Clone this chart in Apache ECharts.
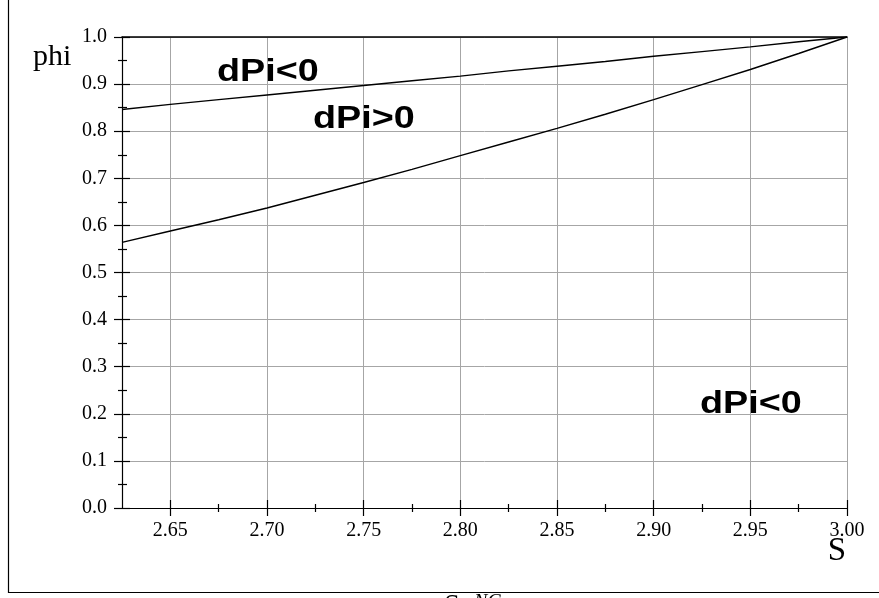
<!DOCTYPE html>
<html>
<head>
<meta charset="utf-8">
<script src="https://cdn.jsdelivr.net/npm/echarts@6/dist/echarts.min.js"></script>
<style>html,body{margin:0;padding:0;background:#fff}#c{width:879px;height:598px}</style>
</head>
<body>
<div id="c"></div>
<script>
// S values (x) and the two boundary curves phi(S)
const sValues = [2.625, 2.65, 2.675, 2.70, 2.725, 2.75, 2.775, 2.80, 2.825, 2.85, 2.875, 2.90, 2.925, 2.95, 2.975, 3.00];
const phiUpper = [0.846, 0.857, 0.867, 0.877, 0.887, 0.897, 0.907, 0.917, 0.928, 0.938, 0.948, 0.959, 0.969, 0.979, 0.990, 1.000];
const phiLower = [0.564, 0.588, 0.612, 0.637, 0.664, 0.691, 0.719, 0.748, 0.777, 0.806, 0.836, 0.867, 0.899, 0.931, 0.965, 1.000];
// axis ticks
const xMajorTicks = [2.65, 2.70, 2.75, 2.80, 2.85, 2.90, 2.95, 3.00];
const xMinorTicks = [2.675, 2.725, 2.775, 2.825, 2.875, 2.925, 2.975];
const xMin = 2.625, xMax = 3.0;
const yMin = 0, yMax = 1.0, yStep = 0.1;
// annotations
const regionLabels = [
  {text: 'dPi<0', x: 217, y: 72},
  {text: 'dPi>0', x: 313, y: 119},
  {text: 'dPi<0', x: 700, y: 404}
];

const chart = echarts.init(document.getElementById('c'), null, {renderer: 'canvas'});
const serif = '"Liberation Serif", "Times New Roman", serif';
const black = '#000';
const gridGrey = '#a6a6a6';

function xAxisBase(extra) {
  return Object.assign({
    type: 'value', min: xMin, max: xMax, gridIndex: 0, position: 'bottom',
    axisLine: {show: false}, axisLabel: {show: false}, splitLine: {show: false},
    axisTick: {show: false}
  }, extra);
}

const option = {
  animation: false,
  backgroundColor: '#fff',
  grid: {left: 122, right: 32, top: 37, bottom: 90, containLabel: false},
  xAxis: [
    xAxisBase({
      axisLine: {show: true, onZero: false, lineStyle: {color: black, width: 1.2}},
      axisTick: {show: true, customValues: xMajorTicks, length: 8, inside: false, lineStyle: {color: black, width: 1.2}},
      axisLabel: {show: true, customValues: xMajorTicks, formatter: v => Number(v).toFixed(2),
        margin: 13, color: black, fontFamily: serif, fontSize: 20},
      splitLine: {show: true, lineStyle: {color: gridGrey, width: 1}}
    }),
    xAxisBase({axisTick: {show: true, customValues: xMajorTicks, length: 8, inside: true, lineStyle: {color: black, width: 1.2}}}),
    xAxisBase({axisTick: {show: true, customValues: xMinorTicks, length: 4, inside: false, lineStyle: {color: black, width: 1.2}}}),
    xAxisBase({axisTick: {show: true, customValues: xMinorTicks, length: 4, inside: true, lineStyle: {color: black, width: 1.2}}}),
    xAxisBase({position: 'top', axisLine: {show: true, onZero: false, lineStyle: {color: black, width: 1.6}}})
  ],
  yAxis: [
    {
      type: 'value', min: yMin, max: yMax, interval: yStep, position: 'left',
      axisLine: {show: true, onZero: false, lineStyle: {color: black, width: 1.2}},
      axisTick: {show: true, length: 8, inside: false, lineStyle: {color: black, width: 1.2}},
      minorTick: {show: true, splitNumber: 2, length: 4, lineStyle: {color: black, width: 1.2}},
      axisLabel: {formatter: v => Number(v).toFixed(1), margin: 15, color: black, fontFamily: serif, fontSize: 20},
      splitLine: {show: true, lineStyle: {color: gridGrey, width: 1}},
      minorSplitLine: {show: false}
    },
    {
      type: 'value', min: yMin, max: yMax, interval: yStep, position: 'left',
      axisLine: {show: false},
      axisTick: {show: true, length: 8, inside: true, lineStyle: {color: black, width: 1.2}},
      minorTick: {show: true, splitNumber: 2, length: 5, lineStyle: {color: black, width: 1.2}},
      axisLabel: {show: false},
      splitLine: {show: false}
    }
  ],
  series: [
    {type: 'line', xAxisIndex: 0, yAxisIndex: 0, showSymbol: false, symbol: 'none', z: 5,
      lineStyle: {color: black, width: 1.4}, data: sValues.map((s, i) => [s, phiUpper[i]])},
    {type: 'line', xAxisIndex: 0, yAxisIndex: 0, showSymbol: false, symbol: 'none', z: 5,
      lineStyle: {color: black, width: 1.4}, data: sValues.map((s, i) => [s, phiLower[i]])}
  ],
  graphic: [
    {type: 'polyline', silent: true, z: 10,
      shape: {points: [[8.5, 0], [8.5, 592.5], [879, 592.5]]},
      style: {stroke: black, lineWidth: 1.2, fill: null}},
    {type: 'text', x: 33, y: 57, z: 10,
      style: {text: 'phi', fontFamily: serif, fontSize: 30, fill: black, align: 'left', verticalAlign: 'middle'}},
    {type: 'text', x: 837, y: 551, z: 10,
      style: {text: 'S', fontFamily: serif, fontSize: 33, fill: black, align: 'center', verticalAlign: 'middle'}},
    {type: 'text', x: 452, y: 606, z: 10,
      style: {text: 'S', fontFamily: serif, fontSize: 28, fill: black, align: 'center', verticalAlign: 'middle'}},
    {type: 'text', x: 474, y: 603, z: 10,
      style: {text: 'NC', fontFamily: serif, fontStyle: 'italic', fontSize: 20, fill: black, align: 'left', verticalAlign: 'middle'}}
  ].concat(regionLabels.map(l => ({
    type: 'text', x: l.x, y: l.y, scaleX: 1.18, z: 10,
    style: {text: l.text, fontFamily: '"Liberation Sans", Arial, sans-serif', fontWeight: 'bold', fontSize: 32,
      fill: black, align: 'left', verticalAlign: 'middle'}
  })))
};
chart.setOption(option);
</script>
</body>
</html>
